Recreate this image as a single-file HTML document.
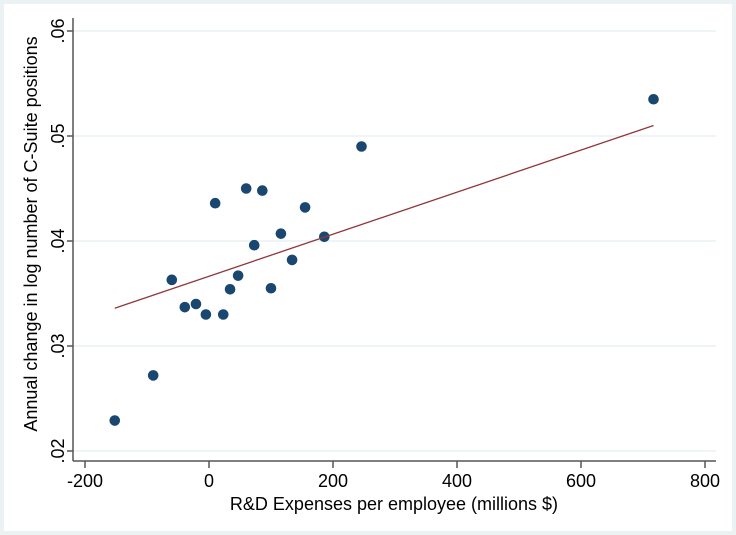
<!DOCTYPE html>
<html><head><meta charset="utf-8"><style>
html,body{margin:0;padding:0;background:#eaf2f3;}
svg{display:block;font-family:"Liberation Sans",Arial,sans-serif;}
</style></head><body>
<svg width="736" height="535" viewBox="0 0 736 535">
<rect x="4" y="4" width="728" height="527" fill="#ffffff"/>
<g id="grid"></g>
<g id="axes"></g>
<g id="marks"></g>
<text x="394" y="510" font-size="18" text-anchor="middle" fill="#000">R&amp;D Expenses per employee (millions $)</text>
<text transform="translate(37,234) rotate(-90)" font-size="18" text-anchor="middle" fill="#000">Annual change in log number of C-Suite positions</text>
</svg>
<script>
const xVals=[-152,-90,-60,-39,-21,-5,10,23,34,47,60,73,86,100,116,134,155,186,246,717];
const yVals=[0.0229,0.0272,0.0363,0.0337,0.0340,0.0330,0.0436,0.0330,0.0354,0.0367,0.0450,0.0396,0.0448,0.0355,0.0407,0.0382,0.0432,0.0404,0.0490,0.0535];
const fitX=[-152,717];
const fitY=[0.0336,0.0510];
const xTicks=[-200,0,200,400,600,800];
const xTickLabels=["-200","0","200","400","600","800"];
const yTicks=[0.02,0.03,0.04,0.05,0.06];
const yTickLabels=[".02",".03",".04",".05",".06"];
const NS="http://www.w3.org/2000/svg";
const sx=v=>209+(v)*0.62;
const sy=v=>451-(v-0.02)*10500;
function mk(tag,attrs,parent){const e=document.createElementNS(NS,tag);for(const k in attrs)e.setAttribute(k,attrs[k]);parent.appendChild(e);return e;}
const grid=document.getElementById('grid'),axes=document.getElementById('axes'),marks=document.getElementById('marks');
const L=73,B=461,R=716;
yTicks.forEach((t,i)=>{
 const y=sy(t);
 const g=mk('line',{x1:L,x2:R,y1:y,y2:y,stroke:'#eaf2f3','stroke-width':1.5},grid);
 
 
 const tk=mk('line',{x1:L-6,x2:L,y1:y,y2:y,stroke:'#000','stroke-width':1},axes);
 
 
 const tx=mk('text',{transform:`translate(${L-9},${y}) rotate(-90)`,'font-size':18,'text-anchor':'middle',fill:'#000'},axes);
 tx.textContent=yTickLabels[i];
 
 
});
xTicks.forEach((t,i)=>{
 const x=sx(t);
 const tk=mk('line',{x1:x,x2:x,y1:B,y2:B+7,stroke:'#000','stroke-width':1},axes);
 
 
 const tx=mk('text',{x:x,y:B+26,'font-size':18,'text-anchor':'middle',fill:'#000'},axes);
 tx.textContent=xTickLabels[i];
 
 
});
const ya=mk('line',{x1:L,x2:L,y1:18,y2:B,stroke:'#555','stroke-width':1.5},axes);


const xa=mk('line',{x1:L,x2:R,y1:B,y2:B,stroke:'#555','stroke-width':1.5},axes);


xVals.forEach((v,i)=>{
 const c=mk('circle',{cx:sx(v),cy:sy(yVals[i]),r:5.3,fill:'#1a476f'},marks);
 
 
});
const fl=mk('line',{x1:sx(fitX[0]),y1:sy(fitY[0]),x2:sx(fitX[1]),y2:sy(fitY[1]),stroke:'#90353b','stroke-width':1.3},marks);


</script>
</body></html>
